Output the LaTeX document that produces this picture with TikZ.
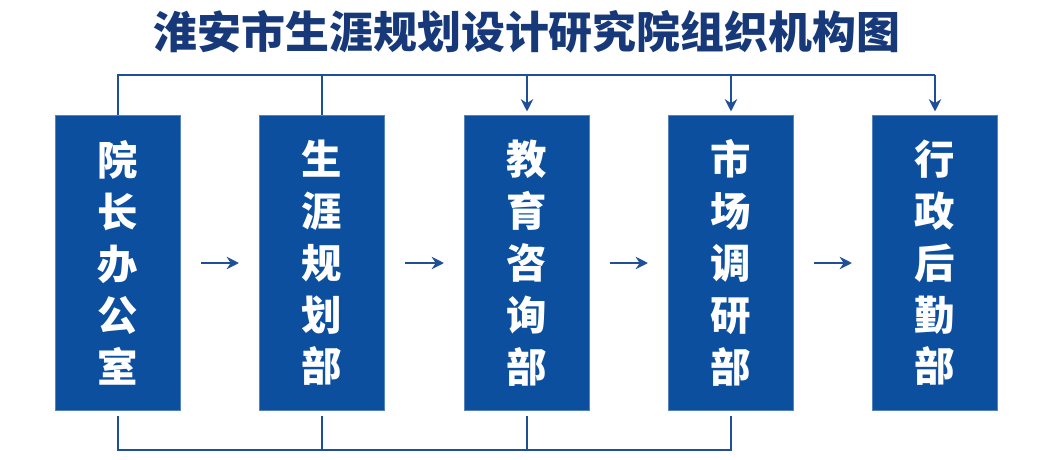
\documentclass[tikz,border=0pt]{standalone}
\usepackage{fontspec}
\newfontfamily\cjk{Noto Sans CJK SC}
\usetikzlibrary{arrows.meta}
\definecolor{boxblue}{HTML}{0B4F9E}
\definecolor{linec}{HTML}{1F4F96}
\definecolor{titlec}{HTML}{17397A}
\begin{document}
\begin{tikzpicture}[x=0.02cm,y=-0.02cm,
  dept/.style={fill=boxblue,draw=boxblue!70!white,line width=0.6pt,minimum width=2.5cm,minimum height=5.9cm,inner sep=0pt,text=white,font=\cjk\bfseries\fontsize{23}{29.5}\selectfont,align=center,text width=1.2cm},
  conn/.style={draw=linec,line width=1.3pt},
  arr/.style={conn,-{Stealth[length=7pt,width=7pt]}}]
\useasboundingbox (0,0) rectangle (1046,460);
\node[font=\cjk\bfseries\fontsize{25}{28}\selectfont,text=titlec] (title) at (527,32) {淮安市生涯规划设计研究院组织机构图};
\node[dept] (a) at (118,263) {院\\长\\办\\公\\室};
\node[dept] (b) at (322,263) {生\\涯\\规\\划\\部};
\node[dept] (c) at (527,263) {教\\育\\咨\\询\\部};
\node[dept] (d) at (731,263) {市\\场\\调\\研\\部};
\node[dept] (e) at (935,263) {行\\政\\后\\勤\\部};
\foreach \p/\q in {a/b,b/c,c/d,d/e}
  \draw[arr] ([xshift=0.4cm]\p.east) -- ([xshift=-0.4cm]\q.west);
\coordinate (t1) at (118,75); \coordinate (t5) at (935,75);
\draw[conn] (a.north) -- (t1) -- (t5);
\draw[conn] (b.north) -- (b.north |- t1);
\foreach \n in {c,d,e} \draw[arr] (\n.north |- t1) -- ([yshift=2pt]\n.north);
\coordinate (u1) at (118,450); \coordinate (u4) at (731,450);
\draw[conn] ([yshift=-0.1cm]a.south) -- (u1) -- (u4) -- ([yshift=-0.1cm]d.south);
\foreach \n in {b,c} \draw[conn] ([yshift=-0.1cm]\n.south) -- (\n.south |- u1);
\end{tikzpicture}
\end{document}
